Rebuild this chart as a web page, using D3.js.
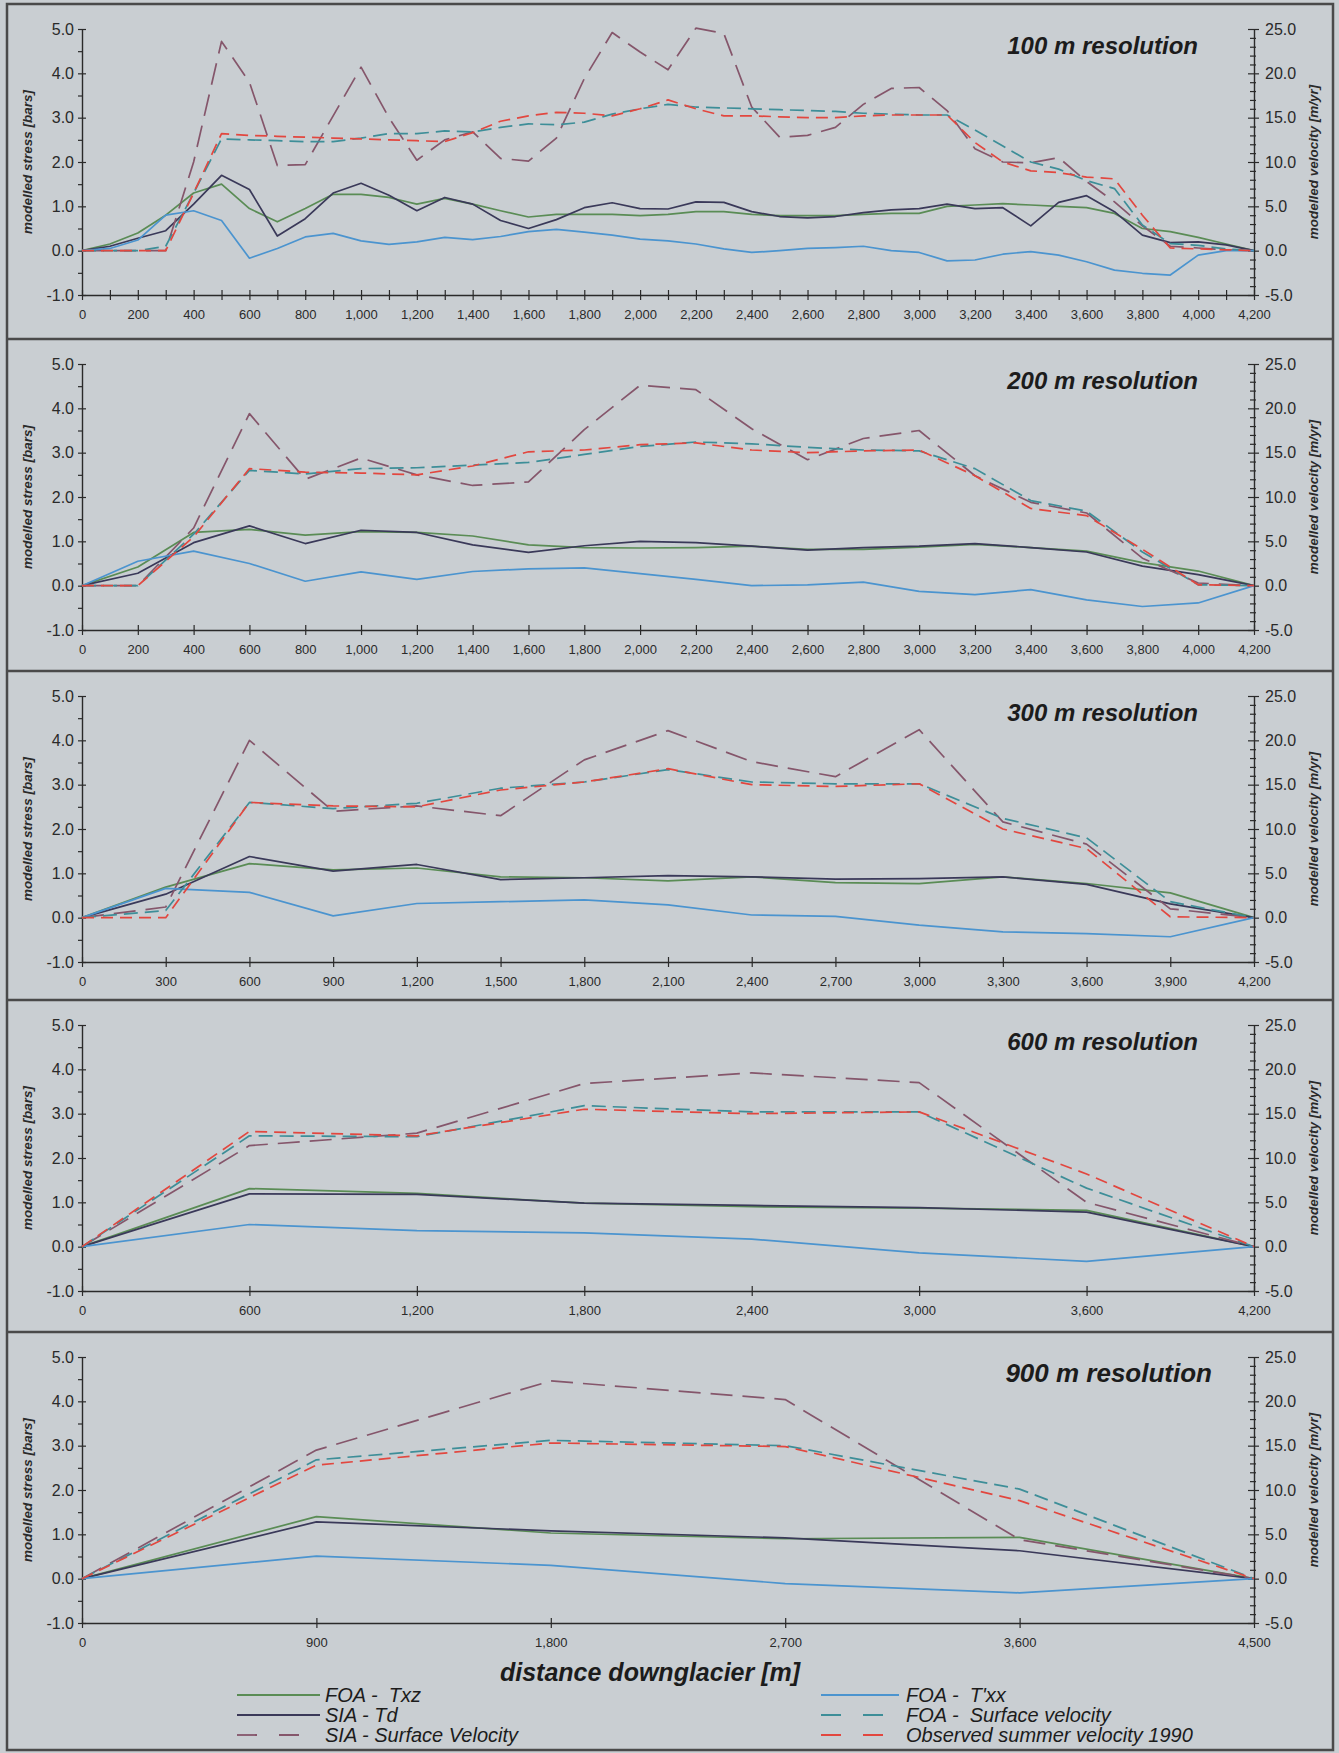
<!DOCTYPE html>
<html>
<head>
<meta charset="utf-8">
<script src="https://cdn.jsdelivr.net/npm/d3@7"></script>
<style>
  body { margin: 0; background: #c9ced2; }
  svg { display: block; font-family: "Liberation Sans", Arial, sans-serif; }
</style>
</head>
<body>
<div id="chart"></div>
<script>
// ---- data (stress in bars, velocity in m/yr) ----

// 100 m resolution
const dist100 = [0,100,200,300,400,500,600,700,800,900,1000,1100,1200,1300,1400,1500,1600,1700,1800,1900,2000,2100,2200,2300,2400,2500,2600,2700,2800,2900,3000,3100,3200,3300,3400,3500,3600,3700,3800,3900,4000,4100,4200];
const txz100 = [0,0.15,0.4,0.8,1.3,1.5,0.95,0.65,0.95,1.27, 1.27,1.2,1.05,1.18,1.05,0.9,0.76,0.82,0.82,0.82, 0.79,0.82,0.88,0.88,0.82,0.79,0.79,0.79,0.82,0.84, 0.84,1.0,1.03,1.06,1.03,1.0,0.97,0.84,0.5,0.43, 0.3,0.15,0];
const td100 = [0,0.1,0.28,0.45,1.05,1.7,1.38,0.33,0.72,1.3, 1.52,1.25,0.9,1.2,1.05,0.68,0.5,0.7,0.97,1.08, 0.95,0.94,1.1,1.09,0.88,0.77,0.74,0.77,0.86,0.92, 0.95,1.05,0.95,0.97,0.56,1.09,1.24,0.88,0.35,0.18, 0.2,0.13,0];
const txx100 = [0,0.05,0.24,0.8,0.9,0.68,-0.17,0.05,0.31,0.39, 0.22,0.14,0.2,0.3,0.25,0.32,0.43,0.48,0.42,0.35, 0.26,0.22,0.15,0.04,-0.04,0,0.05,0.07,0.1,0, -0.04,-0.23,-0.21,-0.08,-0.02,-0.1,-0.25,-0.44,-0.51,-0.55, -0.1,0,0];
const siaVel100 = [0,0,0,0,10,23.6,19.0,9.6,9.7,15.2, 20.7,15,10.2,12.5,13.4,10.4,10.1,12.7,19.4,24.6, 22.4,20.4,25.1,24.5,16.2,12.8,13.0,13.9,16.5,18.3, 18.4,15.8,11.5,10.0,9.9,10.5,7.8,5.5,2.8,0.5, 0.3,0.1,0];
const foaVel100 = [0,0,0,0.5,6.5,12.6,12.5,12.4,12.3,12.3, 12.7,13.2,13.2,13.5,13.4,13.9,14.3,14.2,14.5,15.4, 16.0,16.5,16.2,16.1,16.0,15.9,15.8,15.7,15.5,15.4, 15.3,15.3,13.6,11.8,10.0,9.2,7.9,7.0,2.9,0.8, 0.6,0.2,0];
const obsVel100 = [0,0,0,0,6.5,13.2,13.0,12.9,12.8,12.7, 12.6,12.5,12.4,12.3,13.3,14.6,15.2,15.6,15.5,15.2, 16.0,17.0,16.0,15.2,15.2,15.1,15.0,15.0,15.2,15.3, 15.3,15.3,12.2,10.0,9.0,8.8,8.3,8.1,4.0,0.3, 0.2,0.1,0];

// 200 m resolution
const dist200 = [0,200,400,600,800,1000,1200,1400,1600,1800,2000,2200,2400,2600,2800,3000,3200,3400,3600,3800,4000,4200];
const txz200 = [0,0.42,1.2,1.27,1.14,1.22,1.2,1.12,0.92,0.86,0.85,0.86,0.89,0.82,0.82,0.87,0.93,0.86,0.78,0.52,0.33,0];
const td200 = [0,0.28,0.97,1.35,0.95,1.25,1.2,0.92,0.75,0.9,1.0,0.97,0.89,0.8,0.86,0.89,0.95,0.86,0.76,0.44,0.25,0];
const txx200 = [0,0.55,0.78,0.5,0.1,0.31,0.14,0.32,0.38,0.4,0.27,0.14,0,0.02,0.08,-0.13,-0.2,-0.09,-0.32,-0.47,-0.39,0];
const siaVel200 = [0,0,6.5,19.4,12.0,14.4,12.5,11.3,11.7,17.6,22.6,22.1,17.7,14.2,16.6,17.5,12.4,9.4,8.2,3.1,0.3,0];
const foaVel200 = [0,0,5.8,13.0,12.6,13.2,13.3,13.6,13.9,14.8,15.7,16.2,16.0,15.6,15.3,15.2,13.2,9.6,8.4,3.8,0.1,0];
const obsVel200 = [0,0,5.5,13.2,12.8,12.7,12.5,13.5,15.1,15.3,15.9,16.1,15.3,15.0,15.2,15.3,12.4,8.7,7.9,4.1,0.1,0];

// 300 m resolution
const dist300 = [0,300,600,900,1200,1500,1800,2100,2400,2700,3000,3300,3600,3900,4200];
const txz300 = [0,0.69,1.22,1.08,1.12,0.92,0.9,0.83,0.92,0.79,0.77,0.92,0.77,0.56,0];
const td300 = [0,0.53,1.38,1.05,1.2,0.86,0.9,0.95,0.92,0.87,0.88,0.92,0.75,0.31,0];
const txx300 = [0,0.66,0.57,0.04,0.32,0.36,0.4,0.29,0.06,0.03,-0.17,-0.32,-0.36,-0.43,0];
const siaVel300 = [0,1.2,20.0,12.0,12.6,11.5,17.8,21.1,17.6,15.9,21.2,10.8,8.3,1.0,0];
const foaVel300 = [0,0.8,13.0,12.3,12.9,14.6,15.3,16.7,15.3,15.1,15.1,11.2,9.0,1.8,0];
const obsVel300 = [0,0,13.0,12.6,12.5,14.4,15.3,16.8,15.0,14.8,15.1,10.0,7.8,0.1,0];

// 600 m resolution
const dist600 = [0,600,1200,1800,2400,3000,3600,4200];
const txz600 = [0,1.31,1.2,0.98,0.9,0.87,0.82,0];
const td600 = [0,1.19,1.18,0.98,0.93,0.88,0.78,0];
const txx600 = [0,0.5,0.36,0.31,0.17,-0.14,-0.33,0];
const siaVel600 = [0,11.4,12.8,18.4,19.6,18.5,5.0,0];
const foaVel600 = [0,12.5,12.4,15.9,15.2,15.2,6.6,0];
const obsVel600 = [0,13.0,12.5,15.5,15.0,15.2,8.2,0];

// 900 m resolution
const dist900 = [0,900,1800,2700,3600,4500];
const txz900 = [0,1.4,1.03,0.9,0.93,0];
const td900 = [0,1.28,1.08,0.92,0.63,0];
const txx900 = [0,0.51,0.3,-0.11,-0.32,0];
const siaVel900 = [0,14.5,22.3,20.2,4.4,0];
const foaVel900 = [0,13.4,15.6,15.0,10.1,0];
const obsVel900 = [0,12.8,15.3,14.9,8.8,0];

// axis ticks
const stressTicks = [-1,0,1,2,3,4,5];
const stressMinor = [-0.5,0.5,1.5,2.5,3.5,4.5];
const velocityTicks = [-5,0,5,10,15,20,25];
const velocityMinor = [-4,-3,-2,-1,1,2,3,4,6,7,8,9,11,12,13,14,16,17,18,19,21,22,23,24];
const labels100 = [0,200,400,600,800,1000,1200,1400,1600,1800,2000,2200,2400,2600,2800,3000,3200,3400,3600,3800,4000,4200];

const titles = ["100 m resolution", "200 m resolution", "300 m resolution", "600 m resolution", "900 m resolution"];

// ---- build panel table ----
const panels = [
  { title: titles[0], dist: dist100, xMax: 4200, ticks: dist100, labels: labels100,
    txz: txz100, td: td100, txx: txx100, sia: siaVel100, foa: foaVel100, obs: obsVel100 },
  { title: titles[1], dist: dist200, xMax: 4200, ticks: dist200, labels: dist200,
    txz: txz200, td: td200, txx: txx200, sia: siaVel200, foa: foaVel200, obs: obsVel200 },
  { title: titles[2], dist: dist300, xMax: 4200, ticks: dist300, labels: dist300,
    txz: txz300, td: td300, txx: txx300, sia: siaVel300, foa: foaVel300, obs: obsVel300 },
  { title: titles[3], dist: dist600, xMax: 4200, ticks: dist600, labels: dist600,
    txz: txz600, td: td600, txx: txx600, sia: siaVel600, foa: foaVel600, obs: obsVel600 },
  { title: titles[4], dist: dist900, xMax: 4500, ticks: dist900, labels: dist900,
    txz: txz900, td: td900, txx: txx900, sia: siaVel900, foa: foaVel900, obs: obsVel900, big: true }
];

const seriesStyle = [
  { key: "txz", name: "FOA -  Txz", color: "#5a8c55", axis: "left", dash: null },
  { key: "td", name: "SIA - Td", color: "#3a3959", axis: "left", dash: null },
  { key: "sia", name: "SIA - Surface Velocity", color: "#85566b", axis: "right", dash: "22,10" },
  { key: "txx", name: "FOA -  T'xx", color: "#4b94cf", axis: "left", dash: null },
  { key: "foa", name: "FOA -  Surface velocity", color: "#3d8e98", axis: "right", dash: "14,7" },
  { key: "obs", name: "Observed summer velocity 1990", color: "#e2473f", axis: "right", dash: "12,7" }
];

// ---- layout ----
const W = 1339, H = 1753;
const panelTops = [4, 339, 671, 1000, 1332];
const plotLeft = 82, plotRight = 1254;
const plotOffset = 25, plotH = 266;
const ink = "#2a2a2a";

const svg = d3.select("#chart").append("svg")
  .attr("width", W).attr("height", H);

svg.append("rect").attr("width", W).attr("height", H).attr("fill", "#c9ced2");

// hyphen instead of unicode minus, as in the original
const fmtOne = v => d3.format(".1f")(v).replace("\u2212", "-");
const fmtDist = d3.format(",");

panels.forEach((p, i) => {
  const top = panelTops[i] + plotOffset;
  const g = svg.append("g");

  const x = d3.scaleLinear().domain([0, p.xMax]).range([plotLeft, plotRight]);
  const yL = d3.scaleLinear().domain([-1, 5]).range([top + plotH, top]);
  const yR = d3.scaleLinear().domain([-5, 25]).range([top + plotH, top]);

  // left axis
  const la = g.append("g").attr("transform", `translate(${plotLeft},0)`)
    .call(d3.axisLeft(yL).tickValues(stressTicks).tickFormat(fmtOne)
      .tickSizeInner(4).tickSizeOuter(0).tickPadding(4));
  la.selectAll(".tick line").attr("x1", 4);
  g.append("g").attr("transform", `translate(${plotLeft},0)`)
    .call(d3.axisLeft(yL).tickValues(stressMinor).tickFormat("").tickSizeInner(4).tickSizeOuter(0))
    .select(".domain").remove();

  // right axis
  const ra = g.append("g").attr("transform", `translate(${plotRight},0)`)
    .call(d3.axisRight(yR).tickValues(velocityTicks).tickFormat(fmtOne)
      .tickSizeInner(5).tickSizeOuter(0).tickPadding(6));
  ra.selectAll(".tick line").attr("x1", -6);
  g.append("g").attr("transform", `translate(${plotRight},0)`)
    .call(d3.axisRight(yR).tickValues(velocityMinor)
      .tickFormat("").tickSizeInner(2).tickSizeOuter(0))
    .call(s => s.select(".domain").remove())
    .selectAll(".tick line").attr("x1", -4);

  // bottom axis
  const labelSet = new Set(p.labels);
  const ba = g.append("g").attr("transform", `translate(0,${top + plotH})`)
    .call(d3.axisBottom(x).tickValues(p.ticks)
      .tickFormat(d => labelSet.has(d) ? fmtDist(d) : "")
      .tickSizeInner(5).tickSizeOuter(0).tickPadding(10));
  ba.selectAll(".tick line").attr("y1", -5);

  g.selectAll(".domain").attr("stroke", ink).attr("stroke-width", 1.4);
  g.selectAll(".tick line").attr("stroke", ink).attr("stroke-width", 1.2);
  la.selectAll("text").attr("font-size", 16).attr("fill", ink);
  ra.selectAll("text").attr("font-size", 16).attr("fill", ink);
  ba.selectAll("text").attr("font-size", 13).attr("fill", ink);

  // axis titles
  g.append("text")
    .attr("transform", `translate(32,${top + plotH / 2}) rotate(-90)`)
    .attr("text-anchor", "middle")
    .attr("font-size", 13.5).attr("font-weight", "bold").attr("font-style", "italic")
    .attr("fill", ink)
    .text("modelled stress [bars]");
  g.append("text")
    .attr("transform", `translate(1318,${top + plotH / 2}) rotate(-90)`)
    .attr("text-anchor", "middle")
    .attr("font-size", 13.5).attr("font-weight", "bold").attr("font-style", "italic")
    .attr("fill", ink)
    .text("modelled velocity [m/yr]");

  // panel title
  g.append("text")
    .attr("x", p.big ? 1212 : 1198)
    .attr("y", panelTops[i] + 50)
    .attr("text-anchor", "end")
    .attr("font-size", p.big ? 26 : 24).attr("font-weight", "bold").attr("font-style", "italic")
    .attr("fill", "#1c1c1c")
    .text(p.title);

  // lines
  seriesStyle.forEach(s => {
    const yy = s.axis === "left" ? yL : yR;
    const data = p.dist.map((d, k) => [d, p[s.key][k]]);
    g.append("path")
      .datum(data)
      .attr("fill", "none")
      .attr("stroke", s.color)
      .attr("stroke-width", 1.7)
      .attr("stroke-dasharray", s.dash)
      .attr("stroke-linejoin", "round")
      .attr("d", d3.line().x(d => x(d[0])).y(d => yy(d[1])));
  });
});

// frame and panel separators
svg.append("rect")
  .attr("x", 7).attr("y", 4).attr("width", 1326).attr("height", 1746)
  .attr("fill", "none").attr("stroke", "#4a4a4a").attr("stroke-width", 2.5);
panelTops.slice(1).forEach(t => {
  svg.append("line").attr("x1", 7).attr("x2", 1333).attr("y1", t).attr("y2", t)
    .attr("stroke", "#4a4a4a").attr("stroke-width", 2.5);
});

// x-axis title
svg.append("text")
  .attr("x", 500).attr("y", 1681)
  .attr("font-size", 25).attr("font-weight", "bold").attr("font-style", "italic")
  .attr("fill", "#1c1c1c")
  .text("distance downglacier [m]");

// legend
const legendCols = [
  { x1: 237, x2: 320, tx: 325, items: [seriesStyle[0], seriesStyle[1], seriesStyle[2]] },
  { x1: 821, x2: 899, tx: 906, items: [seriesStyle[3], seriesStyle[4], seriesStyle[5]] }
];
const legendRows = [1695, 1715, 1735];
legendCols.forEach(c => {
  c.items.forEach((s, r) => {
    svg.append("line")
      .attr("x1", c.x1).attr("x2", c.x2)
      .attr("y1", legendRows[r]).attr("y2", legendRows[r])
      .attr("stroke", s.color).attr("stroke-width", 1.8)
      .attr("stroke-dasharray", s.dash ? "20,22" : null);
    svg.append("text")
      .attr("x", c.tx).attr("y", legendRows[r] + 7)
      .attr("font-size", 20).attr("font-style", "italic")
      .attr("fill", "#1c1c1c")
      .style("white-space", "pre")
      .text(s.name);
  });
});
</script>
</body>
</html>
